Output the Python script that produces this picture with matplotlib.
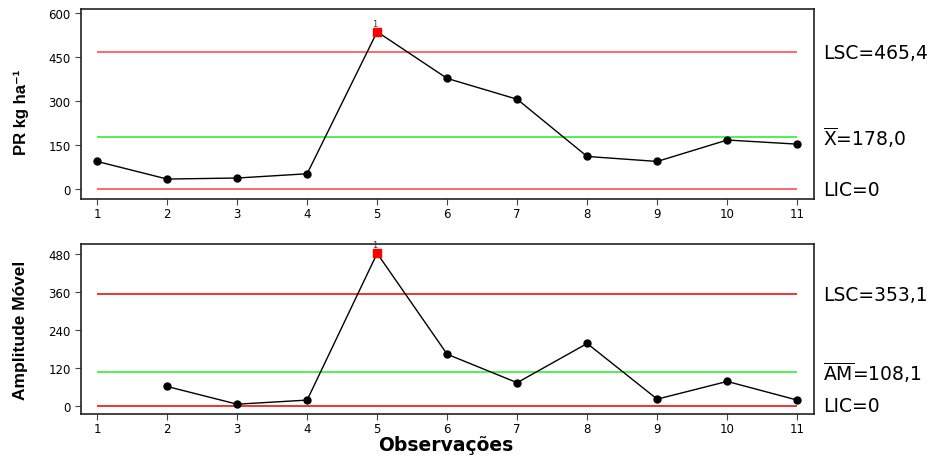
import numpy as np
import matplotlib
matplotlib.use("Agg")
from matplotlib import pyplot as plt

# valores
obs = [1, 2, 3, 4, 5, 6, 7, 8, 9, 10, 11]
pr = [94, 34, 37.5, 52, 536, 377, 306, 111, 94, 167, 153]
am_obs = [2, 3, 4, 5, 6, 7, 8, 9, 10, 11]
am = [61, 5, 18, 482, 163, 73, 197, 21, 77, 18]

pr_lsc, pr_media, pr_lic = 465.4, 178.0, 0
am_lsc, am_media, am_lic = 353.1, 108.1, 0
fora = 5  # ponto fora de controle

plt.rcParams['font.family'] = ['DejaVu Sans']
plt.rcParams['mathtext.fontset'] = 'dejavusans'

fig = plt.figure(figsize=(9.29, 4.56), dpi=100)
W, H = 929, 456
ax1 = fig.add_axes([81 / W, 1 - 200 / H, (814 - 81) / W, 190 / H])
ax2 = fig.add_axes([81 / W, 1 - 415 / H, (814 - 81) / W, 170 / H])

narrow = ['Liberation Sans', 'DejaVu Sans']

def carta(ax, x, y, lsc, media, lic, red, yticks, ylim, rotulo_media, lsc_txt):
    ax.hlines([lsc, lic], 1, 11, color=red, lw=1.2, zorder=1)
    ax.hlines([media], 1, 11, color='#33ee33', lw=1.2, zorder=1)
    ax.plot(x, y, color='black', lw=1, marker='o', ms=5, zorder=3)
    i = x.index(fora)
    ax.plot([x[i]], [y[i]], marker='s', color='red', ms=6, ls='none', zorder=4)
    ax.annotate('1', (x[i], y[i]), xytext=(-2, 3), textcoords='offset points',
                ha='center', va='bottom', fontsize=6, color='#333333')
    ax.set_xlim(0.77, 11.24)
    ax.set_ylim(*ylim)
    ax.set_xticks(obs)
    ax.set_yticks(yticks)
    ax.tick_params(direction='out', length=4, labelsize=8.5, color='#444444')
    ax.tick_params(axis='x', pad=2)
    for s in ax.spines.values():
        s.set_linewidth(1.2)
        s.set_color('#222222')
    kw = dict(fontsize=13.5, va='center', ha='left', clip_on=False)
    ax.text(11.37, lsc, lsc_txt, **kw)
    ax.text(11.37, media, rotulo_media, **kw)
    ax.text(11.37, lic, 'LIC=0', **kw)

carta(ax1, obs, pr, pr_lsc, pr_media, pr_lic, '#ff4f4f', [0, 150, 300, 450, 600],
      (-34, 613.6), r'$\overline{\mathrm{X}}$=178,0', 'LSC=465,4')
carta(ax2, am_obs, am, am_lsc, am_media, am_lic, '#ee1111', [0, 120, 240, 360, 480],
      (-26, 511.6), r'$\overline{\mathrm{AM}}$=108,1', 'LSC=353,1')

fig.text(21 / W, 1 - 112 / H, 'PR kg ha⁻¹', rotation=90, ha='center', va='center',
         fontsize=12, fontweight='bold', family=narrow)
fig.text(21 / W, 1 - 330 / H, 'Amplitude Móvel', rotation=90, ha='center', va='center',
         fontsize=12.5, fontweight='bold', family=narrow)
fig.text(446 / W, 1 - 446 / H, 'Observações', ha='center', va='center',
         fontsize=13.5, fontweight='bold')

fig.savefig('out.png', dpi=100)
